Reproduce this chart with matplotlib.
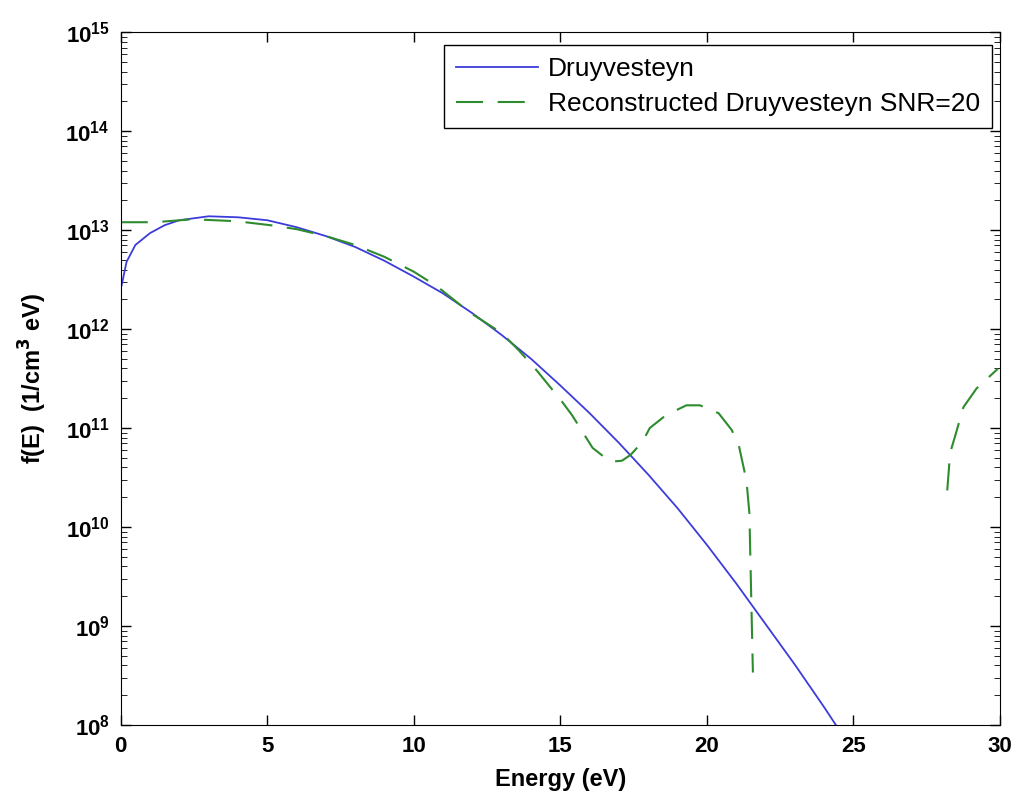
import numpy as np
from matplotlib import pyplot as plt
from matplotlib.ticker import LogLocator, NullFormatter

# Druyvesteyn curve, energy (eV) and log10 f(E)
e_dru = [0.03, 0.2, 0.5, 1.0, 1.5, 2.0, 3.0, 4.0, 5.0, 6.0, 7.0, 8.0, 9.0,
         10.0, 11.0, 12.0, 13.0, 14.0, 15.0, 16.0, 17.0, 18.0, 19.0, 20.0,
         21.0, 22.0, 23.0, 24.0, 24.4]
logf_dru = [12.44, 12.68, 12.85, 12.97, 13.05, 13.10, 13.14, 13.13, 13.10,
            13.03, 12.94, 12.83, 12.69, 12.53, 12.36, 12.16, 11.94, 11.70,
            11.43, 11.15, 10.85, 10.53, 10.19, 9.82, 9.43, 9.02, 8.61, 8.18,
            8.0]

# reconstructed curve (SNR=20), first piece before it goes negative
e_rec1 = [0.0, 1.16, 2.46, 3.96, 5.1, 6.0, 7.0, 8.0, 9.0, 10.0, 10.8, 11.9,
          13.0, 13.6, 14.2, 15.05, 15.4, 16.1, 16.7, 17.1, 17.4, 17.8, 18.05,
          18.6, 19.3, 19.76, 20.4, 20.85, 21.1, 21.35, 21.45, 21.5, 21.57]
logf_rec1 = [13.08, 13.08, 13.11, 13.09, 13.05, 13.01, 12.94, 12.85, 12.73,
             12.58, 12.43, 12.17, 11.96, 11.78, 11.58, 11.27, 11.13, 10.80,
             10.66, 10.67, 10.73, 10.86, 11.0, 11.13, 11.23, 11.23, 11.15,
             10.98, 10.81, 10.47, 10.14, 9.46, 8.53]
# second piece at the high energy end
e_rec2 = [28.2, 28.3, 28.5, 28.75, 29.2, 29.93]
logf_rec2 = [10.37, 10.75, 10.95, 11.21, 11.40, 11.6]

x_ticks = [0, 5, 10, 15, 20, 25, 30]
y_ticks = [1e8, 1e9, 1e10, 1e11, 1e12, 1e13, 1e14, 1e15]

plt.rcParams['font.family'] = ['Liberation Sans', 'DejaVu Sans']

fig = plt.figure(figsize=(10.23, 8.05), dpi=100)
ax = fig.add_axes([0.118, 0.0994, 0.8595, 0.8606])

ax.semilogy(e_dru, 10.0**np.array(logf_dru), color='#3c3cdc', linewidth=1.3,
            label='Druyvesteyn')
ax.semilogy(e_rec1, 10.0**np.array(logf_rec1), color='#2e8b2e', linewidth=1.5,
            dashes=[13, 7], label='Reconstructed Druyvesteyn SNR=20')
ax.semilogy(e_rec2, 10.0**np.array(logf_rec2), color='#2e8b2e', linewidth=1.5,
            dashes=[13, 7])

ax.set_xlim(0, 30)
ax.set_ylim(1e8, 1e15)
ax.set_xticks(x_ticks)
ax.set_yticks(y_ticks)
ax.yaxis.set_minor_locator(LogLocator(base=10, subs=np.arange(2, 10), numticks=20))
ax.yaxis.set_minor_formatter(NullFormatter())
ax.tick_params(which='both', direction='in', top=True, right=True)
ax.tick_params(which='major', length=7, width=1, labelsize=16, pad=8)
ax.tick_params(which='minor', length=4)
for lab in ax.get_xticklabels() + ax.get_yticklabels():
    lab.set_fontweight('bold')

ax.set_xlabel('Energy (eV)', fontsize=17, fontweight='bold', labelpad=8)
ax.set_ylabel('f(E)  (1/cm$^\\mathbf{3}$ eV)', fontsize=17, fontweight='bold',
              labelpad=12)

leg = ax.legend(loc='upper right', bbox_to_anchor=(0.991, 0.981),
                borderaxespad=0, fontsize=19, fancybox=False,
                edgecolor='black', framealpha=1, handlelength=3.1,
                handletextpad=0.4, labelspacing=0.4, borderpad=0.45)
leg.get_frame().set_linewidth(1.0)

fig.savefig('out.png', dpi=100)
